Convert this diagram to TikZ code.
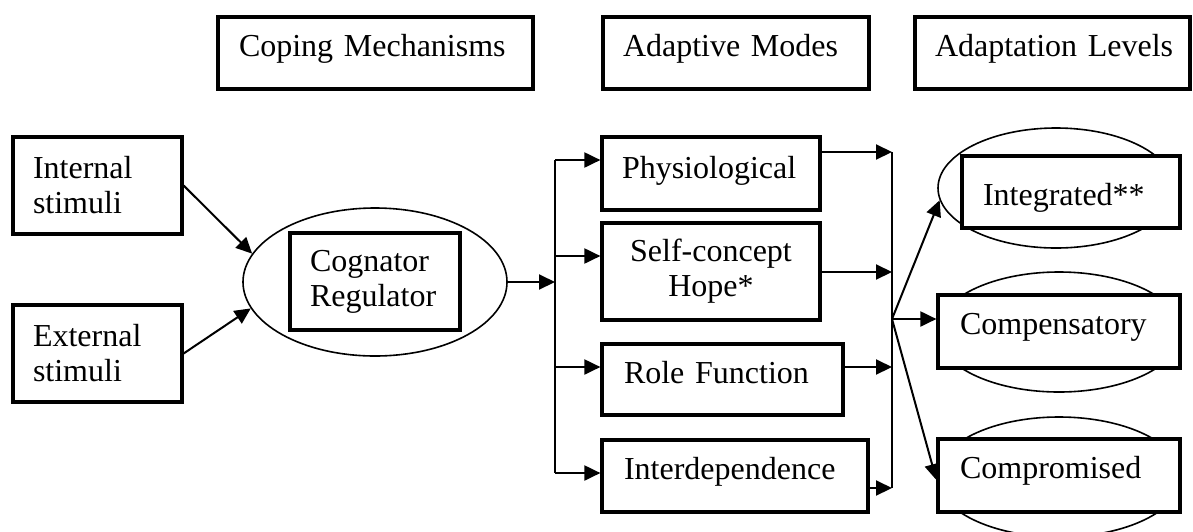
\documentclass[tikz,border=0pt]{standalone}
\usepackage{fontspec}
\setmainfont{Liberation Serif}
\usetikzlibrary{arrows.meta,shapes.geometric,calc}
\begin{document}
\begin{tikzpicture}[x=0.5pt,y=-0.5pt,
  every node/.style={font=\fontsize{16}{17.5}\selectfont},
  bx/.style={draw, line width=1.6pt, fill=white, inner ysep=0pt, align=left},
  ov/.style={draw, ellipse, line width=0.8pt, inner sep=0pt},
  arr/.style={line width=1pt, -{Triangle[length=8pt,width=7.5pt]}},
  ln/.style={line width=1pt}]
\useasboundingbox (0,0) rectangle (1193,531);

% ellipses
\node[ov, minimum width=132pt, minimum height=74pt] (cogell) at (375,282) {};
\node[ov, minimum width=118pt, minimum height=60pt] (integell) at (1056,188) {};
\node[ov, minimum width=122pt, minimum height=60pt] (compell) at (1059,332) {};
\node[ov, minimum width=122pt, minimum height=60pt] (comprell) at (1059,477) {};

% headers
\node[bx, inner xsep=10.5pt, text width=136.5pt, minimum height=36pt, text depth=7.9pt] (hcope) at (375.5,53) {\mbox{Coping Mechanisms}};
\node[bx, inner xsep=10pt, text width=113pt, minimum height=36pt, text depth=7.9pt] (hmodes) at (736,53) {\mbox{Adaptive Modes}};
\node[bx, inner xsep=10pt, text width=117.5pt, minimum height=36pt, text depth=7.9pt] (hlevels) at (1052.5,53) {\mbox{Adaptation Levels}};

% stimuli
\node[bx, inner xsep=10pt, text width=64.5pt, minimum height=48.5pt] (internal) at (97.5,185.5) {Internal\\stimuli};
\node[bx, inner xsep=10pt, text width=64.5pt, minimum height=48.5pt] (external) at (97.5,353.5) {External\\stimuli};

% cognator
\node[bx, inner xsep=10pt, text width=65pt, minimum height=48.5pt] (cogbox) at (375,281.5) {Cognator\\Regulator};

% modes
\node[bx, inner xsep=10pt, text width=89pt, minimum height=36.5pt, text depth=6.4pt] (phys) at (711,173.5) {\mbox{Physiological}};
\node[bx, align=center, inner xsep=10pt, text width=89pt, minimum height=48.5pt] (self) at (711,271.5) {Self-concept\\Hope*};
\node[bx, inner xsep=11pt, text width=98.5pt, minimum height=35.5pt, text depth=7.4pt] (role) at (722.5,379.5) {\mbox{Role Function}};
\node[bx, inner xsep=11pt, text width=111pt, minimum height=36pt, text depth=7.9pt] (inter) at (735,476) {\mbox{Interdependence}};

% levels
\node[bx, inner xsep=10.5pt, text width=88pt, minimum height=36pt, text height=16.5pt, text depth=3.5pt] (integbox) at (1071,192) {\mbox{Integrated**}};
\node[bx, inner xsep=11pt, text width=99pt, minimum height=36.5pt, text depth=7.4pt] (compbox) at (1059,331.5) {\mbox{Compensatory}};
\node[bx, inner xsep=11pt, text width=99pt, minimum height=36.5pt, text depth=8.4pt] (comprbox) at (1059,475.5) {\mbox{Compromised}};

% connectors: stimuli to cognator
\draw[arr] (internal.east) -- (cogell.167);
\draw[arr] (external.east) -- (cogell.192);

% trunk
\coordinate (tm) at (555,282);
\coordinate (t1) at (555,160);
\coordinate (t2) at (555,256);
\coordinate (t3) at (555,367);
\coordinate (t4) at (555,473);
\draw[ln] (t1) -- (t4);
\draw[arr] (cogell.east) -- (tm);
\draw[arr] (t1) -- (t1 -| phys.west);
\draw[arr] (t2) -- (t2 -| self.west);
\draw[arr] (t3) -- (t3 -| role.west);
\draw[arr] (t4) -- (t4 -| inter.west);

% collector
\coordinate (c1) at (892,152);
\coordinate (c2) at (892,272);
\coordinate (c3) at (892,367);
\coordinate (c4) at (892,488);
\coordinate (f) at (892,319);
\draw[ln] (c1) -- (c4);
\draw[arr] (c1 -| phys.east) -- (c1);
\draw[arr] (c2 -| self.east) -- (c2);
\draw[arr] (c3 -| role.east) -- (c3);
\draw[arr] (c4 -| inter.east) -- (c4);

% fan to levels
\draw[arr] (f) -- (integell.186);
\draw[arr] (f) -- (f -| compbox.west);
\draw[arr] (f) -- ([yshift=-2.25pt]comprbox.west);
\end{tikzpicture}
\end{document}
